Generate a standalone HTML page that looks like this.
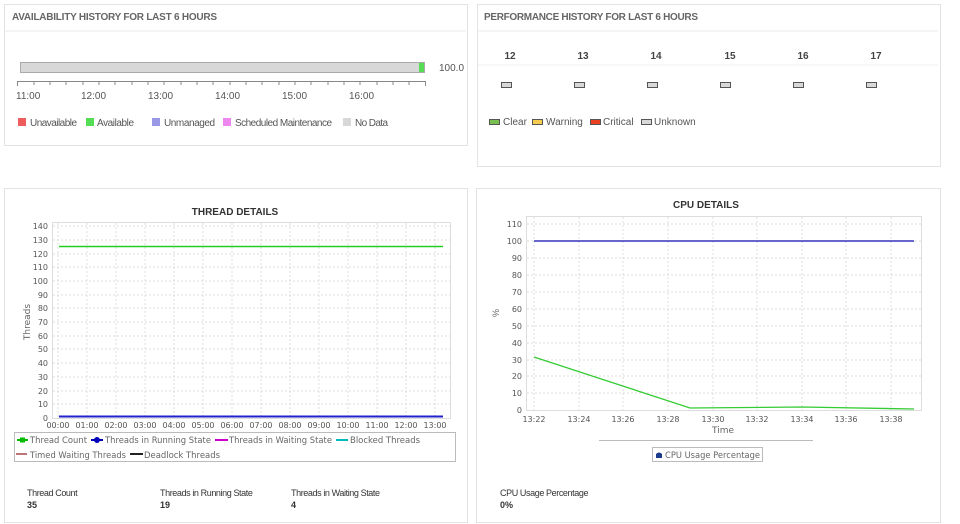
<!DOCTYPE html><html><head><style>
body{margin:0;width:960px;height:524px;background:#fff;font-family:"Liberation Sans",sans-serif;position:relative;overflow:hidden}
.p{position:absolute;border:1px solid #e3e3e3;background:#fff}
svg{position:absolute;left:0;top:0}
</style></head><body>
<div class="p" style="left:4px;top:4px;width:462px;height:140px"></div>
<div class="p" style="left:477px;top:4px;width:462px;height:161px"></div>
<div class="p" style="left:4px;top:188px;width:462px;height:333px"></div>
<div class="p" style="left:476px;top:188px;width:463px;height:333px"></div>
<svg width="960" height="524" font-family="Liberation Sans,sans-serif">
<line x1="5" y1="31" x2="466" y2="31" stroke="#e8e8e8"/>
<line x1="478" y1="31" x2="938" y2="31" stroke="#e8e8e8"/>
<text x="12" y="20" font-size="10" font-weight="bold" fill="#666" textLength="205">AVAILABILITY HISTORY FOR LAST 6 HOURS</text>
<text x="484" y="20" font-size="10" font-weight="bold" fill="#666" textLength="214">PERFORMANCE HISTORY FOR LAST 6 HOURS</text>
<rect x="20.5" y="62.5" width="404" height="10" fill="#d8d8d8" stroke="#aaa"/>
<rect x="419" y="63" width="5" height="9" fill="#55dd55"/>
<text x="439" y="71" font-size="10" fill="#555">100.0</text>
<line x1="17" y1="81.5" x2="426" y2="81.5" stroke="#888"/>
<g stroke="#888">
<line x1="17.5" y1="81" x2="17.5" y2="86"/><line x1="34" y1="81" x2="34" y2="85"/><line x1="50" y1="81" x2="50" y2="85"/><line x1="66" y1="81" x2="66" y2="85"/><line x1="83" y1="81" x2="83" y2="85"/><line x1="99" y1="81" x2="99" y2="85"/><line x1="115" y1="81" x2="115" y2="85"/><line x1="132" y1="81" x2="132" y2="85"/><line x1="148" y1="81" x2="148" y2="85"/><line x1="164" y1="81" x2="164" y2="85"/><line x1="181" y1="81" x2="181" y2="85"/><line x1="197" y1="81" x2="197" y2="85"/><line x1="213" y1="81" x2="213" y2="85"/><line x1="230" y1="81" x2="230" y2="85"/><line x1="246" y1="81" x2="246" y2="85"/><line x1="262" y1="81" x2="262" y2="85"/><line x1="279" y1="81" x2="279" y2="85"/><line x1="295" y1="81" x2="295" y2="85"/><line x1="311" y1="81" x2="311" y2="85"/><line x1="328" y1="81" x2="328" y2="85"/><line x1="344" y1="81" x2="344" y2="85"/><line x1="360" y1="81" x2="360" y2="85"/><line x1="377" y1="81" x2="377" y2="85"/><line x1="393" y1="81" x2="393" y2="85"/><line x1="409" y1="81" x2="409" y2="85"/><line x1="425.5" y1="81" x2="425.5" y2="86"/>
</g>
<g font-size="10" fill="#555"><text x="16" y="99">11:00</text><text x="81" y="99">12:00</text><text x="148" y="99">13:00</text><text x="215" y="99">14:00</text><text x="282" y="99">15:00</text><text x="349" y="99">16:00</text></g>
<g font-size="10" fill="#555">
<rect x="18" y="118" width="8" height="8" fill="#ee5c5c"/><text x="30" y="126" textLength="47">Unavailable</text>
<rect x="86" y="118" width="8" height="8" fill="#55dd55"/><text x="97" y="126" textLength="37">Available</text>
<rect x="152" y="118" width="8" height="8" fill="#9999e6"/><text x="164" y="126" textLength="51">Unmanaged</text>
<rect x="223" y="118" width="8" height="8" fill="#ee88ee"/><text x="235" y="126" textLength="97">Scheduled Maintenance</text>
<rect x="343" y="118" width="8" height="8" fill="#d8d8d8"/><text x="355" y="126" textLength="33">No Data</text>
</g>
<g font-size="10" fill="#444" font-weight="bold" text-anchor="middle"><text x="510" y="59">12</text><text x="583" y="59">13</text><text x="656" y="59">14</text><text x="730" y="59">15</text><text x="803" y="59">16</text><text x="876" y="59">17</text></g>
<line x1="478" y1="65" x2="938" y2="65" stroke="#f0f0f0"/>
<g fill="#d8d8d8" stroke="#555"><rect x="501.5" y="82.5" width="10" height="5"/><rect x="574.5" y="82.5" width="10" height="5"/><rect x="647.5" y="82.5" width="10" height="5"/><rect x="720.5" y="82.5" width="10" height="5"/><rect x="793.5" y="82.5" width="10" height="5"/><rect x="866.5" y="82.5" width="10" height="5"/></g>
<g font-size="10" fill="#555">
<rect x="489.5" y="119.5" width="10" height="5" fill="#77c050" stroke="#555"/><text x="503" y="125">Clear</text>
<rect x="532.5" y="119.5" width="10" height="5" fill="#f5cc50" stroke="#555"/><text x="546" y="125">Warning</text>
<rect x="590.5" y="119.5" width="10" height="5" fill="#e84020" stroke="#555"/><text x="603" y="125">Critical</text>
<rect x="641.5" y="119.5" width="10" height="5" fill="#d8d8d8" stroke="#555"/><text x="654" y="125">Unknown</text>
</g>
<!-- thread -->
<text x="235" y="215" font-size="10" font-weight="bold" fill="#333" text-anchor="middle">THREAD DETAILS</text>
<rect x="52.5" y="222.5" width="398" height="196" fill="#fff" stroke="#ddd"/>
<g stroke="#ddd" stroke-dasharray="2,2">
<line x1="53" x2="450" y1="226" y2="226"/><line x1="53" x2="450" y1="240" y2="240"/><line x1="53" x2="450" y1="254" y2="254"/><line x1="53" x2="450" y1="267" y2="267"/><line x1="53" x2="450" y1="281" y2="281"/><line x1="53" x2="450" y1="295" y2="295"/><line x1="53" x2="450" y1="308" y2="308"/><line x1="53" x2="450" y1="322" y2="322"/><line x1="53" x2="450" y1="336" y2="336"/><line x1="53" x2="450" y1="349" y2="349"/><line x1="53" x2="450" y1="363" y2="363"/><line x1="53" x2="450" y1="377" y2="377"/><line x1="53" x2="450" y1="391" y2="391"/><line x1="53" x2="450" y1="404" y2="404"/>
<line y1="223" y2="418" x1="58" x2="58"/><line y1="223" y2="418" x1="87" x2="87"/><line y1="223" y2="418" x1="116" x2="116"/><line y1="223" y2="418" x1="145" x2="145"/><line y1="223" y2="418" x1="174" x2="174"/><line y1="223" y2="418" x1="203" x2="203"/><line y1="223" y2="418" x1="232" x2="232"/><line y1="223" y2="418" x1="261" x2="261"/><line y1="223" y2="418" x1="290" x2="290"/><line y1="223" y2="418" x1="319" x2="319"/><line y1="223" y2="418" x1="348" x2="348"/><line y1="223" y2="418" x1="377" x2="377"/><line y1="223" y2="418" x1="406" x2="406"/><line y1="223" y2="418" x1="435" x2="435"/>
</g>
<g fill="#555" text-anchor="end" font-family="DejaVu Sans,sans-serif" font-size="8">
<text x="48" y="229">140</text><text x="48" y="243">130</text><text x="48" y="257">120</text><text x="48" y="270">110</text><text x="48" y="284">100</text><text x="48" y="298">90</text><text x="48" y="311">80</text><text x="48" y="325">70</text><text x="48" y="339">60</text><text x="48" y="352">50</text><text x="48" y="366">40</text><text x="48" y="380">30</text><text x="48" y="394">20</text><text x="48" y="407">10</text><text x="48" y="421">0</text>
</g>
<text transform="translate(30,322) rotate(-90)" font-size="9" fill="#666" text-anchor="middle" font-family="DejaVu Sans,sans-serif">Threads</text>
<g font-size="8" fill="#555" text-anchor="middle" font-family="DejaVu Sans,sans-serif">
<text x="58" y="428">00:00</text><text x="87" y="428">01:00</text><text x="116" y="428">02:00</text><text x="145" y="428">03:00</text><text x="174" y="428">04:00</text><text x="203" y="428">05:00</text><text x="232" y="428">06:00</text><text x="261" y="428">07:00</text><text x="290" y="428">08:00</text><text x="319" y="428">09:00</text><text x="348" y="428">10:00</text><text x="377" y="428">11:00</text><text x="406" y="428">12:00</text><text x="435" y="428">13:00</text>
</g>
<line x1="59" y1="246.5" x2="443" y2="246.5" stroke="#22cc22" stroke-width="1.5"/>
<line x1="59" y1="416.5" x2="443" y2="416.5" stroke="#2222cc" stroke-width="2"/>
<rect x="14.5" y="432.5" width="441" height="29" fill="none" stroke="#bbb"/>
<g font-size="9" fill="#666" font-family="DejaVu Sans,sans-serif">
<line x1="17" x2="28" y1="440" y2="440" stroke="#0b0" stroke-width="2"/><rect x="20" y="437.5" width="5" height="5" fill="#0b0"/><text x="30" y="443" textLength="57" lengthAdjust="spacingAndGlyphs">Thread Count</text>
<line x1="91" x2="103" y1="440" y2="440" stroke="#00b" stroke-width="2"/><circle cx="97" cy="440" r="3" fill="#00b"/><text x="105" y="443" textLength="106" lengthAdjust="spacingAndGlyphs">Threads in Running State</text>
<line x1="215" x2="228" y1="440" y2="440" stroke="#c0c" stroke-width="2"/><text x="229" y="443" textLength="103" lengthAdjust="spacingAndGlyphs">Threads in Waiting State</text>
<line x1="336" x2="348" y1="440" y2="440" stroke="#0bb" stroke-width="2"/><text x="350" y="443" textLength="70" lengthAdjust="spacingAndGlyphs">Blocked Threads</text>
<line x1="16" x2="27" y1="454" y2="454" stroke="#b77" stroke-width="2"/><text x="30" y="458" textLength="96" lengthAdjust="spacingAndGlyphs">Timed Waiting Threads</text>
<line x1="130" x2="143" y1="454" y2="454" stroke="#222" stroke-width="2"/><text x="144" y="458" textLength="76" lengthAdjust="spacingAndGlyphs">Deadlock Threads</text>
</g>
<g font-size="9" fill="#333" letter-spacing="-0.4"><text x="27" y="496">Thread Count</text><text x="160" y="496">Threads in Running State</text><text x="291" y="496">Threads in Waiting State</text></g>
<g font-size="9" fill="#333" font-weight="bold"><text x="27" y="508">35</text><text x="160" y="508">19</text><text x="291" y="508">4</text></g>
<!-- cpu -->
<text x="706" y="208" font-size="10" font-weight="bold" fill="#333" text-anchor="middle">CPU DETAILS</text>
<rect x="526.5" y="216.5" width="395" height="194" fill="#fff" stroke="#ddd"/>
<g stroke="#ddd" stroke-dasharray="2,2">
<line x1="527" x2="921" y1="224" y2="224"/><line x1="527" x2="921" y1="241" y2="241"/><line x1="527" x2="921" y1="258" y2="258"/><line x1="527" x2="921" y1="275" y2="275"/><line x1="527" x2="921" y1="292" y2="292"/><line x1="527" x2="921" y1="309" y2="309"/><line x1="527" x2="921" y1="326" y2="326"/><line x1="527" x2="921" y1="343" y2="343"/><line x1="527" x2="921" y1="360" y2="360"/><line x1="527" x2="921" y1="376" y2="376"/><line x1="527" x2="921" y1="393" y2="393"/>
<line y1="217" y2="410" x1="534" x2="534"/><line y1="217" y2="410" x1="579" x2="579"/><line y1="217" y2="410" x1="623" x2="623"/><line y1="217" y2="410" x1="668" x2="668"/><line y1="217" y2="410" x1="713" x2="713"/><line y1="217" y2="410" x1="757" x2="757"/><line y1="217" y2="410" x1="802" x2="802"/><line y1="217" y2="410" x1="846" x2="846"/><line y1="217" y2="410" x1="891" x2="891"/>
</g>
<g fill="#555" text-anchor="end" font-family="DejaVu Sans,sans-serif" font-size="8">
<text x="522" y="227">110</text><text x="522" y="244">100</text><text x="522" y="261">90</text><text x="522" y="278">80</text><text x="522" y="295">70</text><text x="522" y="312">60</text><text x="522" y="329">50</text><text x="522" y="346">40</text><text x="522" y="363">30</text><text x="522" y="379">20</text><text x="522" y="396">10</text><text x="522" y="413">0</text>
</g>
<text transform="translate(499,313) rotate(-90)" font-size="9" fill="#666" text-anchor="middle">%</text>
<g font-size="8" fill="#555" text-anchor="middle" font-family="DejaVu Sans,sans-serif">
<text x="534" y="422">13:22</text><text x="579" y="422">13:24</text><text x="623" y="422">13:26</text><text x="668" y="422">13:28</text><text x="713" y="422">13:30</text><text x="757" y="422">13:32</text><text x="802" y="422">13:34</text><text x="846" y="422">13:36</text><text x="891" y="422">13:38</text>
</g>
<text x="723" y="433" font-size="9" fill="#666" text-anchor="middle" font-family="DejaVu Sans,sans-serif">Time</text>
<line x1="534" y1="241" x2="914" y2="241" stroke="#3333bb" stroke-width="1.5"/>
<polyline points="534,357 690,408 802,407 914,409" fill="none" stroke="#33cc33" stroke-width="1.3"/>
<line x1="599" y1="440.5" x2="813" y2="440.5" stroke="#bbb"/>
<rect x="652.5" y="447.5" width="110" height="14" fill="#fff" stroke="#bbb"/>
<path d="M656,458 L656,454 Q659,451 662,454 L662,458 Z" fill="#1a3a8a"/>
<text x="665" y="458" font-size="9" fill="#666" font-family="DejaVu Sans,sans-serif" textLength="95" lengthAdjust="spacingAndGlyphs">CPU Usage Percentage</text>
<text x="500" y="496" font-size="9" fill="#333" letter-spacing="-0.4">CPU Usage Percentage</text>
<text x="500" y="508" font-size="9" fill="#333" font-weight="bold">0%</text>
</svg>
</body></html>
